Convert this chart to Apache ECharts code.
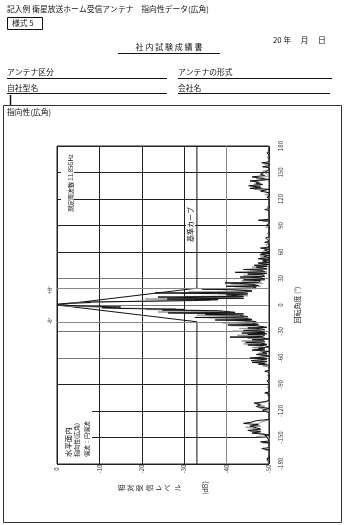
<!DOCTYPE html>
<html><head><meta charset="utf-8">
<script src="https://cdn.jsdelivr.net/npm/echarts@6/dist/echarts.min.js"></script>
<style>html,body{margin:0;padding:0;background:#fff}#c{width:345px;height:525px}</style>
</head><body><div id="c"></div><script>
// ---- data ----
const levelTicks = [0, -10, -20, -30, -40, -50];
const angleTicks = [-180, -150, -120, -90, -60, -30, 0, 30, 60, 90, 120, 150, 180];

const blackAngles = [
 -180,-177,-174,-173.5,-168,-164,-162.5,-161.5,-156,-155,
 -154,-149,-148,-147,-145,-143.5,-142,-140.5,-139,-137,
 -135.5,-134,-132.5,-131,-129.5,-122,-120,-119,-117,-115,
 -113,-111,-109.5,-108,-100.5,-99.5,-98.5,-88,-86,-85,
 -76,-75,-74,-68,-67,-66,-65,-64,-63,-62,
 -61,-60,-59,-57.6,-56,-55,-53.8,-52.5,-51,-50,
 -48.8,-47.5,-46,-45.3,-44.6,-43,-42.3,-41.6,-40,-39.3,
 -38.6,-37,-36.3,-35.6,-34,-33.3,-32.6,-31.7,-31,-29.5,
 -28.8,-28.1,-26.7,-26,-25.3,-23.3,-22.6,-21.9,-20.5,-19.8,
 -19.1,-17.7,-17,-16.3,-14.8,-14.1,-13.4,-11.5,-10.8,-10.1,
 -9,-8.3,-6.5,-5.7,-5,-3.8,-3.2,-2.2,-1.1,0,
 1,2,2.8,3.4,4.2,5,6,6.8,7.6,9,
 9.8,11.5,12.5,13.6,14.4,16,17.2,18,18.8,20.5,
 21.2,22,23.5,24.4,25,25.7,27.5,28.5,29.3,31,
 31.7,32.4,34,35,35.8,37,37.7,39.5,40.2,41,
 43,43.8,45,45.8,47.5,48.3,50,51,52.5,53.3,
 55,56,57.5,58.3,59,60,62,63,64.5,65.5,
 70,71,72,76,77,90,91,92,95,96,
 97,107,108,109,121,122,123,127,129,131,
 132,133.5,135,136.5,138,139,140.5,142,143.5,145,
 146.5,148,150,151.5,153,155.5,156.5,157.5,160,161,
 162,170,172,173,180];
const blackLevels = [
 -50,-50,-49.5,-50,-50,-50,-48.3,-50,-50,-48,
 -50,-49.5,-49,-50,-46,-48,-45,-48,-47,-45.5,
 -47.5,-44,-46,-47,-50,-50,-49,-48.5,-50,-47,
 -48,-46.5,-49,-50,-50,-49,-50,-50,-49.5,-50,
 -50,-49,-50,-50,-47.5,-49,-46,-49.5,-45.8,-48,
 -49.5,-45.5,-49,-50,-47,-49.5,-48.5,-50,-46,-49,
 -47.5,-50,-49,-45,-49.5,-48,-44.5,-49,-48.5,-46,
 -50,-48,-40.8,-48.5,-49,-45,-49.5,-43.6,-49,-47.5,
 -44,-49,-48,-45,-49.5,-47,-40.3,-47.5,-46,-42,
 -47,-45.5,-37.3,-46,-44,-32.5,-45,-43,-35,-44,
 -26.2,-42,-38,-24.8,-30,-14,-10.6,-15,-6,-0.5,
 0,-3,-8,-7,-20,-32,-38,-26,-44,-23.8,
 -44,-40,-45,-23.1,-44,-46,-41,-34.2,-46,-47,
 -40,-47.5,-46,-43,-39.6,-47.5,-48,-44,-49,-47.5,
 -43.2,-49,-48.5,-45,-49.5,-42,-49,-48,-44,-49.5,
 -47,-49.5,-46.5,-50,-47.4,-50,-48.5,-50,-47.5,-50,
 -48.8,-50,-48,-50,-48.3,-50,-49,-50,-48,-50,
 -50,-49,-50,-49.2,-50,-50,-49.5,-50,-50,-47.5,
 -50,-50,-49,-50,-50,-49.5,-50,-50,-48,-50,
 -45.5,-48,-45.2,-48.5,-47,-47.5,-45.5,-50,-48,-46,
 -49,-48,-47.8,-49.5,-50,-50,-48.5,-50,-50,-48.3,
 -50,-50,-49.5,-50,-50];

const grayAngles = [
 -180,-175,-170,-165,-164,-163,-157,-156,-155,-150,
 -149,-148,-146,-144.5,-143,-141.5,-140,-138.5,-137,-135.5,
 -134,-132,-130,-125,-121,-120,-118.5,-117,-116,-114.5,
 -112,-110.5,-109,-103,-102,-101,-94,-93,-92,-81,
 -80,-79,-70,-69,-68,-67,-66,-65,-64,-63,
 -62,-61,-59.5,-58.5,-57,-56,-54.5,-53.5,-52.5,-51.5,
 -50,-49,-48,-47,-46,-44.8,-44,-43.3,-41.5,-40.8,
 -40.1,-38.5,-37.8,-37.1,-35,-34.2,-33.5,-32,-30.3,-29.6,
 -28.9,-27.4,-26.5,-25.8,-24,-23.4,-22.7,-21,-20.3,-19.6,
 -18,-17.4,-16.7,-15,-14.3,-13.6,-12.2,-11.5,-10.8,-9.6,
 -8.8,-7.9,-7.2,-6.2,-5.2,-4.4,-3.4,-2.4,-1.3,-0.4,
 0.4,1.2,2.2,3,3.8,4.6,5.4,6.1,6.8,7.5,
 8.5,9.6,10.4,12,12.8,13.6,14.7,15.4,17,17.7,
 18.4,19.8,20.6,21.3,23,23.8,24.5,26.5,27.3,28,
 29.5,30.3,31,32.8,33.6,34.3,36,36.8,37.5,39,
 39.8,40.5,42,42.8,43.5,45.5,46.3,48,49.5,50.5,
 51.5,52.5,53.5,54.5,55.5,56.5,57.5,58.5,59.5,60.5,
 62,63.5,65,67,68,69,80,81,82,87,
 88,89,94,95,96,104,110,111,112,124,
 125,126,128,129.5,131,132.5,134,135.5,137,138.5,
 140,141.5,143,144.5,146,148,150,151.5,153,158,
 159,160,166,167,168,175,180];
const grayLevels = [
 -50,-49.5,-50,-50,-49,-50,-50,-48.5,-50,-50,
 -47,-49.5,-49,-47,-45.5,-48,-47,-44.5,-48,-46,
 -47.5,-48.5,-50,-50,-50,-49,-50,-48,-47.5,-49,
 -47,-48.5,-50,-50,-49.5,-50,-50,-49.5,-50,-50,
 -49.5,-50,-50,-48.5,-49.5,-48,-49.5,-47,-49,-48,
 -49.5,-47.5,-46.5,-49,-48,-49.5,-47.5,-49.5,-48,-49,
 -46.5,-49,-46,-48.5,-48,-47,-44,-49,-47.5,-43.6,
 -48.5,-49.5,-45,-49,-48,-42.5,-49,-47.5,-46.5,-41.5,
 -48,-47,-43,-49,-47,-41,-46.5,-45,-39,-46,
 -44,-40,-45.5,-43,-36,-44,-40.5,-33,-42,-37,
 -30,-23.8,-39,-35,-21,-28,-13,-9,-3,-0.8,
 -0.2,0,-3,-9,-15,-24,-36,-30,-20.8,-44,
 -42,-30,-45,-43,-38,-45,-31,-46,-45,-39,
 -47,-45.5,-42,-48,-46,-41,-48.5,-47,-43.5,-49,
 -46.5,-44.5,-48.5,-47,-44,-49,-47.5,-45,-49.5,-48,
 -45.5,-49.5,-48.5,-46,-50,-48.5,-50,-48,-48,-49.5,
 -48.5,-47.5,-49,-48,-49.5,-47.8,-49,-48.5,-49.5,-48.5,
 -49.5,-48.8,-50,-50,-49.2,-50,-50,-49.5,-50,-50,
 -49.2,-50,-50,-48.5,-50,-50,-50,-49.5,-50,-50,
 -49,-50,-50,-49,-46.5,-48.5,-46,-48,-46.5,-48,
 -46.5,-49,-47,-48.5,-50,-50,-49,-48.5,-50,-50,
 -49,-50,-50,-49.5,-50,-49.8,-50];

// reference envelope (基準カーブ)
const refAngles = [-180, -19, 0, 19, 180];
const refLevels = [-33, -33, 0, -33, -33];
// ±θ' lines
const thetaAngles = [19, -19];

// ---- build ----
const pairs = (as, ls) => as.map((a, i) => [ls[i], a]);
const FF = '"Noto Sans CJK JP","Noto Sans CJK SC",sans-serif';
const txt = (x, y, text, o = {}) => ({
  type: 'text', x, y, z: 120, rotation: o.rot || 0,
  style: {
    text, fill: o.fill || '#111', fontSize: o.size || 7.8, fontFamily: FF,
    textAlign: o.align || 'left', textVerticalAlign: o.va || 'top',
    lineHeight: o.lh, backgroundColor: o.bg, padding: o.pad
  }
});
const ln = (x1, y1, x2, y2, w = 1, c = '#111') => ({
  type: 'line', z: 120, shape: { x1, y1, x2, y2 }, style: { stroke: c, lineWidth: w }
});
const box = (x, y, w, h, fill, stroke) => ({
  type: 'rect', z: 110, shape: { x, y, width: w, height: h },
  style: { fill: fill || 'none', stroke: stroke || null, lineWidth: 1 }
});
const R = Math.PI / 2;

const graphics = [
  txt(7, 5, '記入例 衛星放送ホーム受信アンテナ　指向性データ(広角)'),
  box(7.5, 17.5, 35, 12, 'none', '#111'),
  txt(12, 19, '様式 5'),
  txt(273, 36, '20 年　 月　 日'),
  txt(169, 43, '社 内 試 験 成 績 書', { align: 'center', size: 8 }),
  ln(118, 53.5, 220, 53.5),
  txt(7, 68, 'アンテナ区分'), ln(7, 78.5, 167, 78.5),
  txt(178, 68, 'アンテナの形式'), ln(178, 78.5, 332, 78.5),
  txt(7, 84, '自社型名'), ln(7, 93.5, 167, 93.5),
  txt(178, 84, '会社名'), ln(178, 93.5, 330, 93.5),
  ln(10.5, 95, 10.5, 105, 1.5),
  box(3.5, 105.5, 338, 417, 'none', '#333'),
  txt(7, 108, '指向性(広角)'),
  // in-plot annotation boxes
  box(61, 152, 13, 63, '#fff'),
  txt(70.5, 212, '測定周波数 11.85GHz', { rot: R, va: 'middle', size: 6 }),
  box(58, 403, 34, 56, '#fff'),
  txt(68.5, 457, '水平面内', { rot: R, va: 'middle', size: 7.4 }),
  txt(77, 457, '指向性(広角)', { rot: R, va: 'middle', size: 6 }),
  txt(86.5, 457, '偏波：円偏波', { rot: R, va: 'middle', size: 6 }),
  box(186, 202, 9, 42, '#fff'),
  txt(190.5, 242, '基準カーブ', { rot: R, va: 'middle', size: 7 }),
  txt(50, 290, "+θ'", { rot: R, va: 'middle', align: 'center', size: 5.5, fill: '#333' }),
  txt(50, 321, "-θ'", { rot: R, va: 'middle', align: 'center', size: 5.5, fill: '#333' }),
  // x-axis title: vertical (縦書き) text rotated with the chart
  txt(163, 488, '相\n対\n受\n信\nレ\nベ\nル\n\n\n(dB)', { rot: R, va: 'middle', align: 'center', size: 7, lh: 9.3, fill: '#222' })
];

const chart = echarts.init(document.getElementById('c'), null, { renderer: 'canvas' });
chart.setOption({
  animation: false,
  backgroundColor: '#fff',
  grid: { left: 57, right: 76, top: 146, bottom: 61, show: true, borderColor: '#222', borderWidth: 1, backgroundColor: 'transparent' },
  xAxis: {
    type: 'value', min: levelTicks[levelTicks.length - 1], max: levelTicks[0], interval: 10, inverse: true,
    axisLine: { show: false }, axisTick: { show: false },
    axisLabel: { rotate: 90, margin: 5, fontSize: 6, color: '#333', fontFamily: FF, align: 'center', verticalAlign: 'middle' },
    splitLine: { show: true, lineStyle: { color: ['#222', '#888', '#222', '#222', '#222', '#222'], width: 1 } }
  },
  yAxis: {
    type: 'value', min: angleTicks[0], max: angleTicks[angleTicks.length - 1], interval: 30, position: 'right',
    axisLine: { show: false }, axisTick: { show: false },
    axisLabel: { rotate: 90, margin: 12, fontSize: 6, color: '#333', fontFamily: FF, align: 'center', verticalAlign: 'middle' },
    splitLine: { show: true, lineStyle: { color: ['#222', '#222', '#222', '#222', '#777', '#777', '#777', '#777', '#222', '#222', '#222', '#222', '#222'], width: 1 } },
    name: '回転角度 (°)', nameLocation: 'middle', nameRotate: 90, nameGap: 25,
    nameTextStyle: { fontSize: 7, color: '#222', fontFamily: FF }
  },
  series: [
    {
      name: '基準カーブ', type: 'line', data: pairs(refAngles, refLevels), showSymbol: false, symbol: 'none',
      lineStyle: { color: '#111', width: 1 }, z: 2,
      markLine: { silent: true, symbol: 'none', label: { show: false },
        lineStyle: { color: '#888', width: 1, type: 'solid' },
        data: thetaAngles.map(a => ({ yAxis: a })) }
    },
    { name: 'gray', type: 'line', data: pairs(grayAngles, grayLevels), showSymbol: false, symbol: 'none',
      lineStyle: { color: '#959595', width: 1 }, z: 3 },
    { name: 'black', type: 'line', data: pairs(blackAngles, blackLevels), showSymbol: false, symbol: 'none',
      lineStyle: { color: '#111', width: 1 }, z: 4 }
  ],
  graphic: graphics
});
</script></body></html>
